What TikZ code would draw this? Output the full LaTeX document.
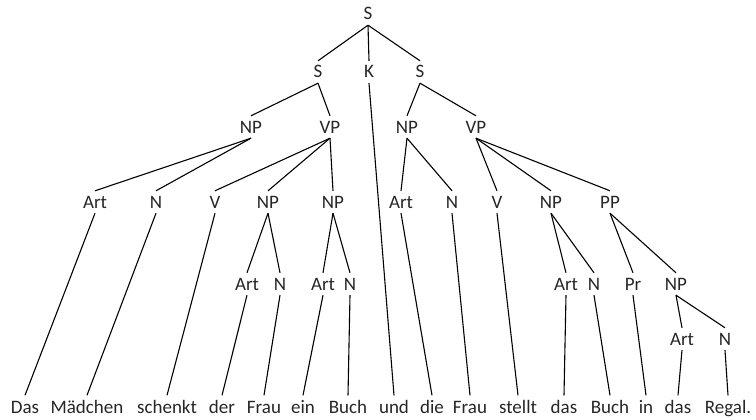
\documentclass[tikz,border=0pt]{standalone}
\usepackage{fontspec}
\setmainfont{Carlito}
\definecolor{txt}{RGB}{38,38,38}
\begin{document}
\begin{tikzpicture}[x=1pt,y=-1pt,
  lab/.style={anchor=base,inner xsep=1pt,inner ysep=5pt,text height=12pt,text depth=0pt,
    text=txt,font=\fontsize{19}{22}\selectfont},
  word/.style={lab,inner ysep=5.5pt},
  edge/.style={draw=black,line width=1.1pt}]
\useasboundingbox (0,0) rectangle (756,420);
% level 0-2
\node[lab] (S0) at (368,20) {S};
\node[lab] (S1) at (318,78) {S};
\node[lab] (K)  at (369,78) {K};
\node[lab] (S2) at (420,78) {S};
\node[lab] (NP1) at (251,133) {NP};
\node[lab] (VP1) at (330,133) {VP};
\node[lab] (NP2) at (407,133) {NP};
\node[lab] (VP2) at (476,133) {VP};
% level 3
\node[lab] (Art1) at (95,208) {Art};
\node[lab] (N1)   at (156,208) {N};
\node[lab] (V1)   at (215,208) {V};
\node[lab] (NPa)  at (268,208) {NP};
\node[lab] (NPb)  at (333,208) {NP};
\node[lab] (Art2) at (401,208) {Art};
\node[lab] (N2)   at (452,208) {N};
\node[lab] (V2)   at (497,208) {V};
\node[lab] (NPc)  at (551,208) {NP};
\node[lab] (PP)   at (610,208) {PP};
% level 4
\node[lab] (Art3) at (247,290) {Art};
\node[lab] (N3)   at (280,290) {N};
\node[lab] (Art4) at (323,290) {Art};
\node[lab] (N4)   at (350,290) {N};
\node[lab] (Art5) at (566,290) {Art};
\node[lab] (N5)   at (594,290) {N};
\node[lab] (Pr)   at (633,290) {Pr};
\node[lab] (NPd)  at (676,290) {NP};
% level 5
\node[lab] (Art6) at (682,345) {Art};
\node[lab] (N6)   at (725,345) {N};
% words
\node[word] (w1)  at (25,413) {Das};
\node[word] (w2)  at (87,413) {Mädchen};
\node[word] (w3)  at (167,413) {schenkt};
\node[word] (w4)  at (222,413) {der};
\node[word] (w5)  at (264,413) {Frau};
\node[word] (w6)  at (303,413) {ein};
\node[word] (w7)  at (348,413) {Buch};
\node[word] (w8)  at (394,413) {und};
\node[word] (w9)  at (432,413) {die};
\node[word] (w10) at (470,413) {Frau};
\node[word] (w11) at (518,413) {stellt};
\node[word] (w12) at (564,413) {das};
\node[word] (w13) at (610,413) {Buch};
\node[word] (w14) at (646,413) {in};
\node[word] (w15) at (678,413) {das};
\node[word] (w16) at (728,413) {Regal.};
% edges
\foreach \a/\b in {S0/S1,S0/K,S0/S2,S1/NP1,S1/VP1,S2/NP2,S2/VP2,
  NP1/Art1,NP1/N1,VP1/V1,VP1/NPa,VP1/NPb,NP2/Art2,NP2/N2,VP2/V2,VP2/NPc,VP2/PP,
  NPa/Art3,NPa/N3,NPb/Art4,NPb/N4,NPc/Art5,NPc/N5,PP/Pr,PP/NPd,NPd/Art6,NPd/N6,
  K/w8,Art1/w1,N1/w2,V1/w3,Art3/w4,N3/w5,Art4/w6,N4/w7,Art2/w9,N2/w10,V2/w11,
  Art5/w12,N5/w13,Pr/w14,Art6/w15,N6/w16}
  \draw[edge] (\a.south) -- (\b.north);
\end{tikzpicture}
\end{document}
